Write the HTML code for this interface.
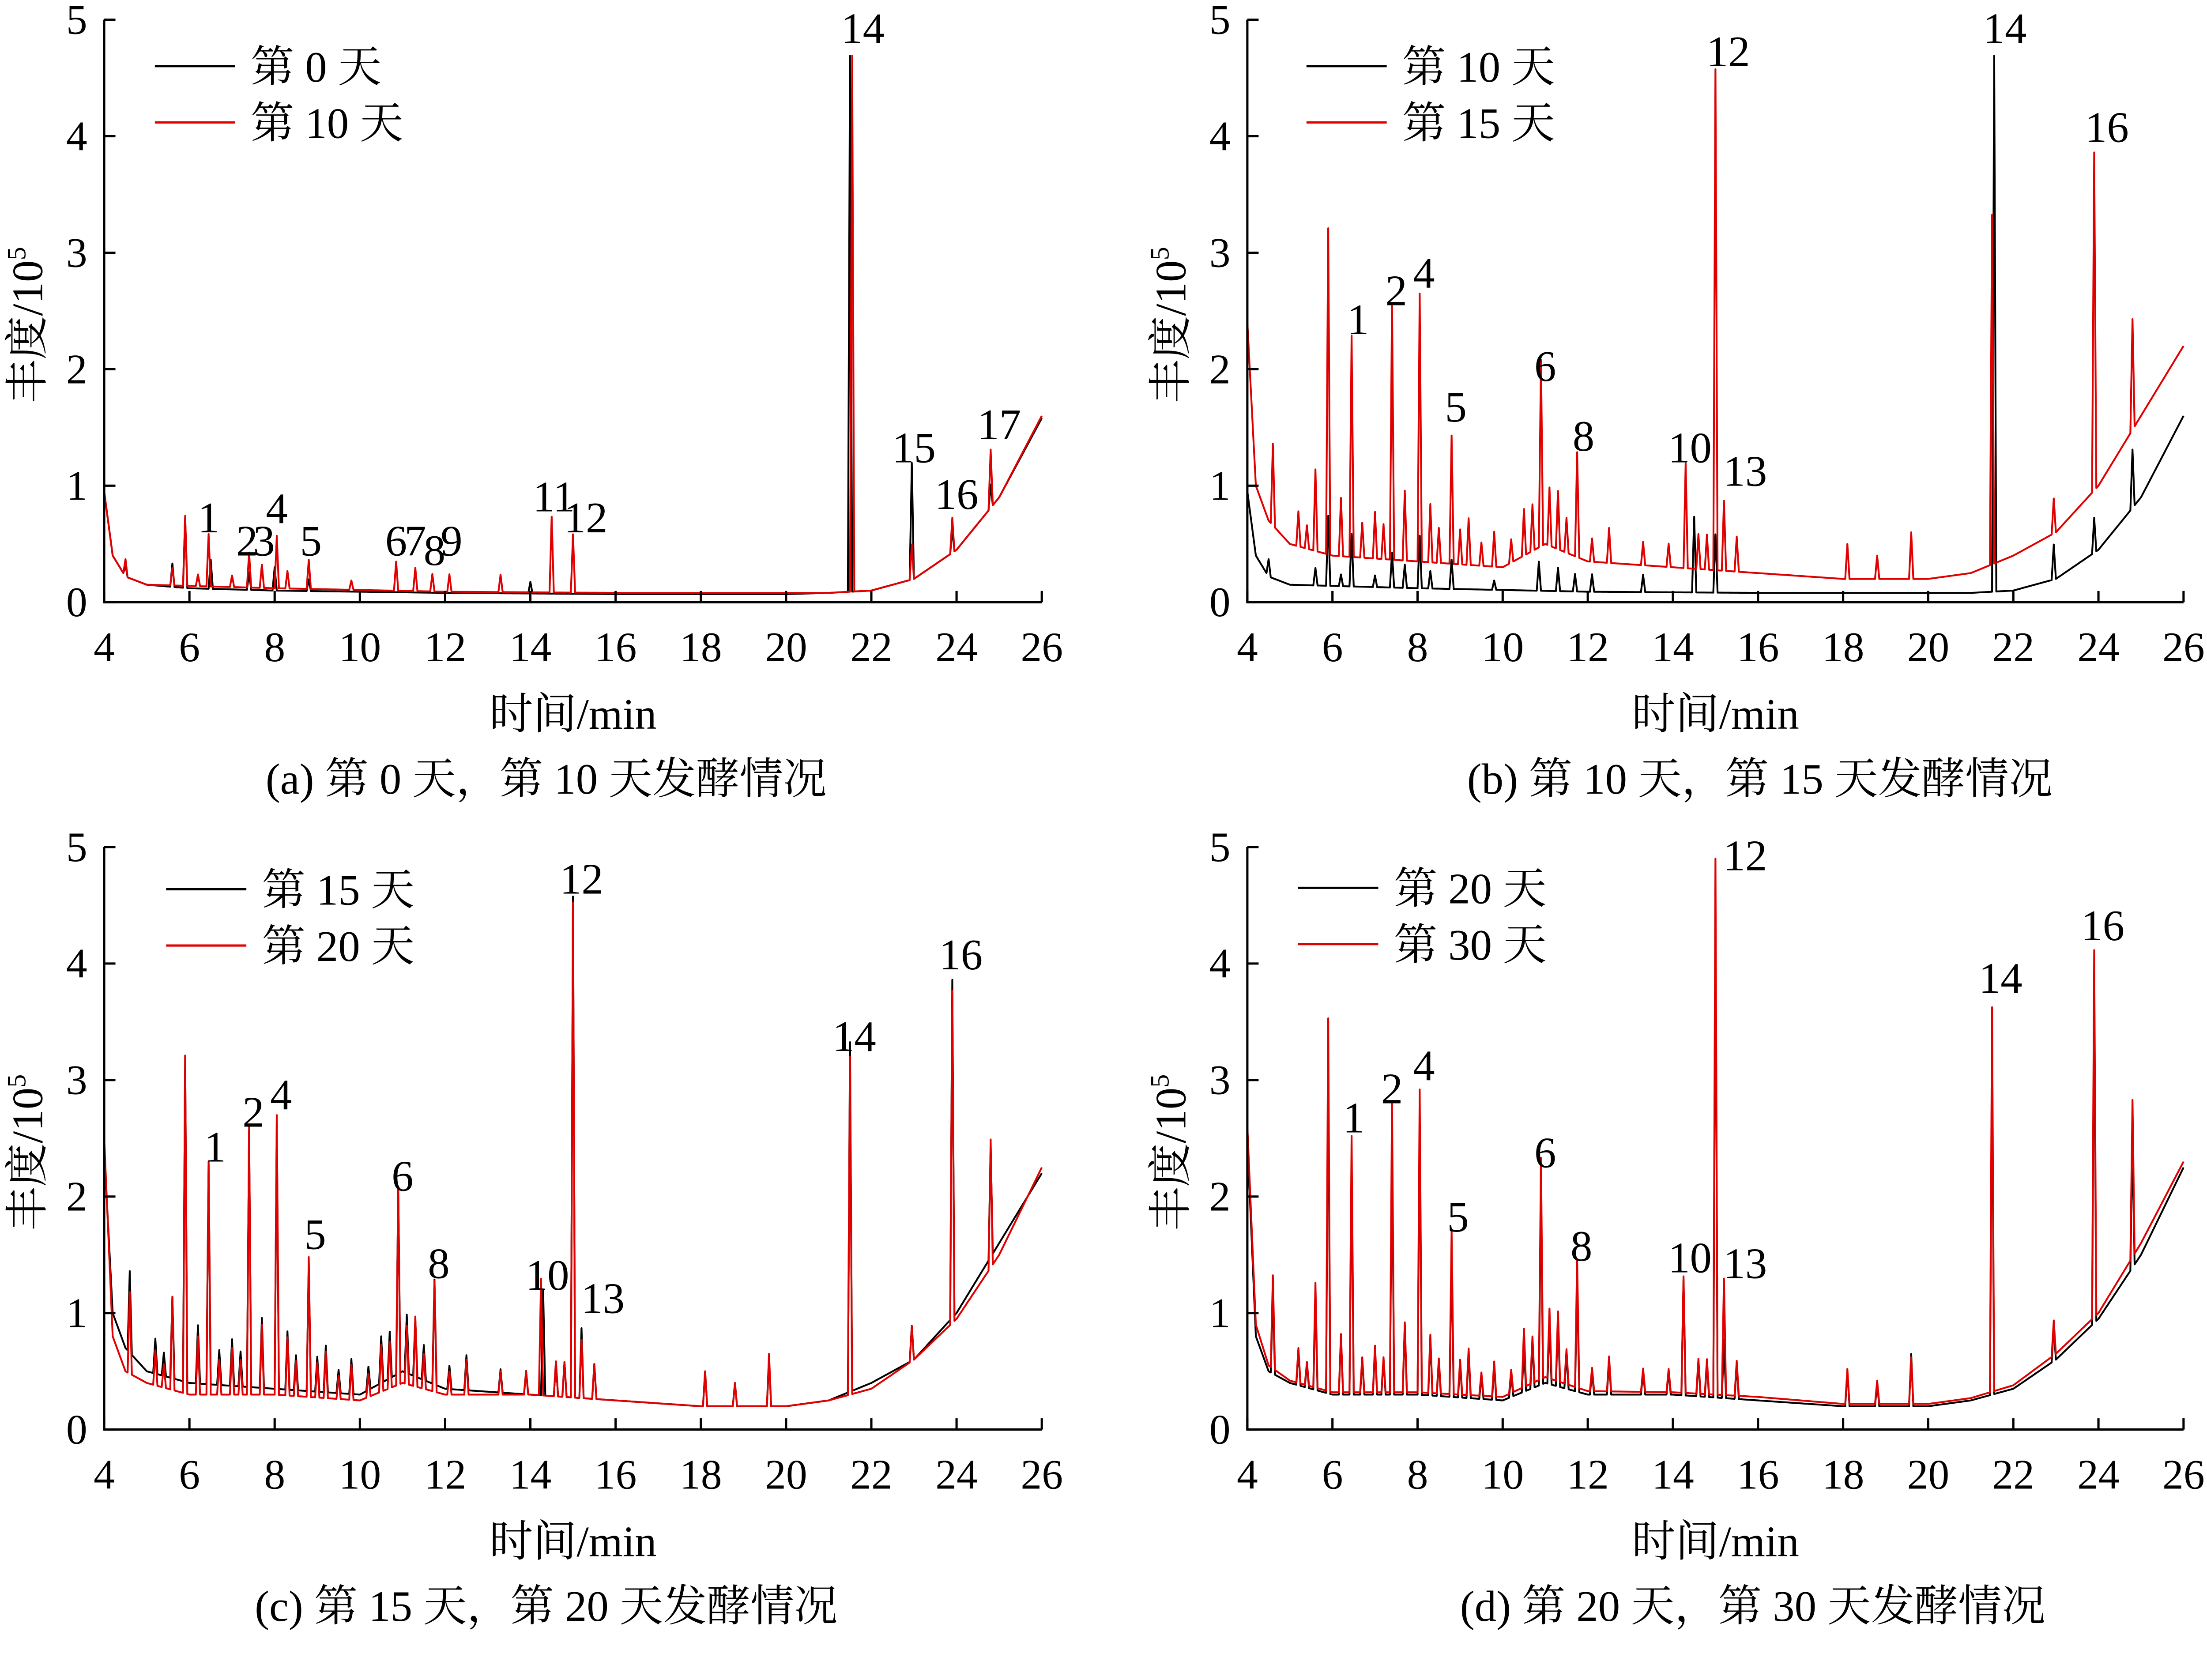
<!DOCTYPE html>
<html><head><meta charset="utf-8">
<style>
html,body{margin:0;padding:0;background:#fff;overflow:hidden;}
svg{display:block;}
text{font-family:"Liberation Serif","Noto Serif CJK SC",serif;fill:#000;}
</style></head>
<body>
<svg id="fig" width="5151" height="3806" viewBox="0 0 1615 1194" preserveAspectRatio="none" xmlns="http://www.w3.org/2000/svg"></svg>
<script>
// ---- data ----
const xTicks = [4,6,8,10,12,14,16,18,20,22,24,26];
const yTicks = [0,1,2,3,4,5];
const baseDay0  = [[4,0.95],[4.2,0.4],[4.5,0.22],[5,0.15],[6,0.12],[8,0.1],[12,0.08],[16,0.07],[20,0.07],[21,0.08],[22,0.1],[23,0.2],[24,0.45],[25,0.9],[26,1.58]];
const peaksDay0 = [[4.5,0.1],[5.6,0.2],[5.9,0.6],[6.5,0.25],[7.4,0.15],[8.0,0.2],[8.8,0.1],[14.0,0.1],[21.5,4.6],[22.95,1.0],[23.9,0.2],[24.8,0.2]];
const baseDay10  = [[4,0.95],[4.2,0.4],[4.5,0.22],[5,0.15],[6,0.14],[8,0.12],[12,0.09],[16,0.08],[20,0.08],[21,0.08],[22,0.1],[23,0.2],[24,0.45],[25,0.9],[26,1.6]];
const peaksDay10 = [[4.5,0.15],[5.6,0.15],[5.9,0.6],[6.2,0.1],[6.45,0.45],[7.0,0.1],[7.4,0.3],[7.7,0.2],[8.05,0.45],[8.3,0.15],[8.8,0.25],[9.8,0.08],[10.85,0.25],[11.3,0.2],[11.7,0.15],[12.1,0.15],[13.3,0.15],[14.5,0.65],[15.0,0.5],[21.55,4.6],[22.95,0.3],[23.9,0.3],[24.8,0.5]];
const baseDay15  = [[4,2.4],[4.2,1.0],[4.5,0.7],[5,0.5],[6,0.4],[8,0.35],[10,0.3],[11,0.5],[12,0.35],[14,0.3],[16,0.25],[18,0.2],[20,0.2],[21,0.25],[22,0.4],[23,0.6],[24,1.0],[25,1.6],[26,2.2]];
const peaksDay15 = [[4.6,0.7],[5.2,0.3],[5.4,0.2],[5.6,0.7],[5.9,2.8],[6.2,0.5],[6.45,1.9],[6.7,0.3],[7.0,0.4],[7.2,0.3],[7.4,2.2],[7.7,0.6],[8.05,2.3],[8.3,0.5],[8.5,0.3],[8.8,1.1],[9.0,0.3],[9.2,0.4],[9.5,0.2],[9.8,0.3],[10.2,0.2],[10.5,0.4],[10.7,0.4],[10.9,1.6],[11.1,0.5],[11.3,0.5],[11.5,0.3],[11.75,0.9],[12.1,0.2],[12.5,0.3],[13.3,0.2],[13.9,0.2],[14.3,0.9],[14.6,0.3],[14.8,0.3],[15.0,4.3],[15.2,0.6],[15.5,0.3],[18.1,0.3],[18.8,0.2],[19.6,0.4],[21.5,3.0],[22.95,0.3],[23.9,2.9],[24.8,0.95]];
const baseDay20  = [[4,2.5],[4.2,0.8],[4.5,0.5],[5,0.4],[6,0.3],[8,0.3],[10,0.25],[11,0.4],[12,0.3],[14,0.3],[16,0.25],[18,0.2],[20,0.2],[21,0.25],[22,0.35],[23,0.6],[24,0.95],[25,1.5],[26,2.25]];
const peaksDay20 = [[4.6,0.7],[5.2,0.3],[5.4,0.2],[5.6,0.8],[5.9,2.9],[6.2,0.5],[6.45,2.0],[6.7,0.3],[7.0,0.4],[7.2,0.3],[7.4,2.3],[7.7,0.6],[8.05,2.4],[8.3,0.5],[8.5,0.3],[8.8,1.2],[9.0,0.3],[9.2,0.4],[9.5,0.2],[9.8,0.3],[10.2,0.2],[10.5,0.4],[10.7,0.4],[10.9,1.7],[11.1,0.5],[11.3,0.6],[11.5,0.3],[11.75,0.95],[12.1,0.2],[12.5,0.3],[13.3,0.2],[13.9,0.2],[14.25,1.0],[14.6,0.3],[14.8,0.3],[15.0,4.25],[15.2,0.5],[15.5,0.3],[18.1,0.3],[18.8,0.2],[19.6,0.45],[21.5,2.9],[22.95,0.3],[23.9,2.85],[24.8,1.1]];
const baseDay30  = [[4,2.6],[4.2,0.9],[4.5,0.55],[5,0.42],[6,0.32],[8,0.32],[10,0.28],[11,0.45],[12,0.33],[14,0.32],[16,0.28],[18,0.22],[20,0.22],[21,0.27],[22,0.38],[23,0.65],[24,1.0],[25,1.6],[26,2.3]];
const peaksDay30 = [[4.6,0.8],[5.2,0.3],[5.4,0.2],[5.6,0.9],[5.9,3.2],[6.2,0.5],[6.45,2.2],[6.7,0.3],[7.0,0.4],[7.2,0.3],[7.4,2.5],[7.7,0.6],[8.05,2.6],[8.3,0.5],[8.5,0.3],[8.8,1.4],[9.0,0.3],[9.2,0.4],[9.5,0.2],[9.8,0.3],[10.2,0.2],[10.5,0.5],[10.7,0.4],[10.9,1.9],[11.1,0.6],[11.3,0.6],[11.5,0.3],[11.75,1.1],[12.1,0.2],[12.5,0.3],[13.3,0.2],[13.9,0.2],[14.25,1.0],[14.6,0.3],[14.8,0.3],[15.0,4.6],[15.2,1.0],[15.5,0.3],[18.1,0.3],[18.8,0.2],[19.6,0.4],[21.5,3.3],[22.95,0.3],[23.9,3.15],[24.8,1.35]];
const labelsA = [["1",6.45,0.6],["2",7.35,0.4],["3",7.75,0.4],["4",8.05,0.68],["5",8.85,0.4],["6",10.85,0.4],["7",11.3,0.4],["8",11.75,0.32],["9",12.15,0.4],["11",14.55,0.78],["12",15.3,0.6],["14",21.8,4.8],["15",23.0,1.2],["16",24.0,0.8],["17",25.0,1.4]];
const labelsB = [["1",6.6,2.3],["2",7.5,2.55],["4",8.15,2.7],["5",8.9,1.55],["6",11.0,1.9],["8",11.9,1.3],["10",14.4,1.2],["12",15.3,4.6],["13",15.7,1.0],["14",21.8,4.8],["16",24.2,3.95]];
const labelsC = [["1",6.6,2.3],["2",7.5,2.6],["4",8.15,2.75],["5",8.95,1.55],["6",11.0,2.05],["8",11.85,1.3],["10",14.4,1.2],["12",15.2,4.6],["13",15.7,1.0],["14",21.6,3.25],["16",24.1,3.95]];
const labelsD = [["1",6.5,2.55],["2",7.4,2.8],["4",8.15,3.0],["5",8.95,1.7],["6",11.0,2.25],["8",11.85,1.45],["10",14.4,1.35],["12",15.7,4.8],["13",15.7,1.3],["14",21.7,3.75],["16",24.1,4.2]];

const NS="http://www.w3.org/2000/svg";
const svg=document.getElementById('fig');
function mk(tag,attrs,parent){const e=document.createElementNS(NS,tag);for(const k in attrs)e.setAttribute(k,attrs[k]);(parent||svg).appendChild(e);return e;}
function interp(base,t){for(let i=0;i<base.length-1;i++){const a=base[i],b=base[i+1];if(t>=a[0]&&t<=b[0]){return a[1]+(b[1]-a[1])*(t-a[0])/(b[0]-a[0]);}}return base[base.length-1][1];}
const W=0.05;
function seriesPath(base,peaks,sx,sy){
  const pts=[];
  for(let t=4;t<=26.0001;t+=0.05){if(!peaks.some(p=>Math.abs(t-p[0])<W))pts.push([t,interp(base,t)]);}
  peaks.forEach(p=>{pts.push([p[0]-W,interp(base,p[0]-W)]);pts.push([p[0],interp(base,p[0])+p[1]]);pts.push([p[0]+W,interp(base,p[0]+W)]);});
  pts.sort((a,b)=>a[0]-b[0]);
  return pts.map((q,i)=>(i?'L':'M')+sx(q[0]).toFixed(2)+','+sy(q[1]).toFixed(2)).join(' ');
}
function panel(cfg){
  const g=mk('g',{});
  
  
  const sx=t=>cfg.x0+(t-4)/(22)*(cfg.x1-cfg.x0);
  const sy=v=>cfg.y0-v/5*(cfg.y0-cfg.y5);
  const p1=mk('path',{d:seriesPath(cfg.b1,cfg.p1,sx,sy),fill:'none',stroke:'#000','stroke-width':1.3,'stroke-linejoin':'round'},g);
  
  
  const p2=mk('path',{d:seriesPath(cfg.b2,cfg.p2,sx,sy),fill:'none',stroke:'#e00000','stroke-width':1.3,'stroke-linejoin':'round'},g);
  
  
  const ax=mk('path',{d:`M${cfg.x0},${cfg.y5} V${cfg.y0} H${cfg.x1}`,fill:'none',stroke:'#000','stroke-width':1.6},g);
  
  
  xTicks.forEach(t=>{
    mk('line',{x1:sx(t),x2:sx(t),y1:cfg.y0,y2:cfg.y0-8,stroke:'#000','stroke-width':1.6},g);
    const tx=mk('text',{x:sx(t),y:cfg.y0+42,'font-size':30,'text-anchor':'middle'},g);
    tx.textContent=t;
    
    
  });
  yTicks.forEach(v=>{
    mk('line',{x1:cfg.x0,x2:cfg.x0+8,y1:sy(v),y2:sy(v),stroke:'#000','stroke-width':1.6},g);
    const tx=mk('text',{x:cfg.x0-12,y:sy(v)+10,'font-size':30,'text-anchor':'end'},g);
    tx.textContent=v;
    
    
  });
  const xt=mk('text',{x:(cfg.x0+cfg.x1)/2,y:cfg.y0+90,'font-size':31,'text-anchor':'middle'},g);
  xt.textContent='时间/min';
  
  
  const yt=mk('text',{x:0,y:0,'font-size':31,'text-anchor':'middle',transform:`translate(${cfg.x0-44},${(cfg.y0+cfg.y5)/2+10}) rotate(-90)`},g);
  yt.innerHTML='丰度/10<tspan dy="-12" font-size="19">5</tspan>';
  
  
  const cap=mk('text',{x:cfg.capX,y:cfg.y0+136,'font-size':31,'text-anchor':'middle'},g);
  cap.textContent=cfg.cap;
  
  
  [[cfg.l1,'#000',0],[cfg.l2,'#e00000',40]].forEach(l=>{
    const lg=mk('g',{},g);
    
    
    mk('line',{x1:cfg.lx,x2:cfg.lx+57,y1:cfg.ly+l[2],y2:cfg.ly+l[2],stroke:l[1],'stroke-width':1.6},lg);
    const tt=mk('text',{x:cfg.lx+68,y:cfg.ly+l[2]+11,'font-size':31},lg);
    tt.textContent=l[0];
  });
  cfg.labels.forEach(lb=>{
    const tt=mk('text',{x:sx(lb[1]),y:sy(lb[2]),'font-size':31,'text-anchor':'middle'},g);
    tt.textContent=lb[0];
    
    
  });
}
panel({name:'panel-a',x0:74,x1:740,y0:428,y5:14,b1:baseDay0,p1:peaksDay0,b2:baseDay10,p2:peaksDay10,l1:'第 0 天',l2:'第 10 天',lx:110,ly:47,cap:'(a) 第 0 天，第 10 天发酵情况',capX:388,labels:labelsA});
panel({name:'panel-b',x0:886,x1:1551,y0:428,y5:14,b1:baseDay10,p1:peaksDay10,b2:baseDay15,p2:peaksDay15,l1:'第 10 天',l2:'第 15 天',lx:928,ly:47,cap:'(b) 第 10 天，第 15 天发酵情况',capX:1250,labels:labelsB});
panel({name:'panel-c',x0:74,x1:740,y0:1016,y5:602,b1:baseDay15,p1:peaksDay15,b2:baseDay20,p2:peaksDay20,l1:'第 15 天',l2:'第 20 天',lx:118,ly:632,cap:'(c) 第 15 天，第 20 天发酵情况',capX:388,labels:labelsC});
panel({name:'panel-d',x0:886,x1:1551,y0:1016,y5:602,b1:baseDay20,p1:peaksDay20,b2:baseDay30,p2:peaksDay30,l1:'第 20 天',l2:'第 30 天',lx:922,ly:631,cap:'(d) 第 20 天，第 30 天发酵情况',capX:1245,labels:labelsD});
</script>
</body></html>
